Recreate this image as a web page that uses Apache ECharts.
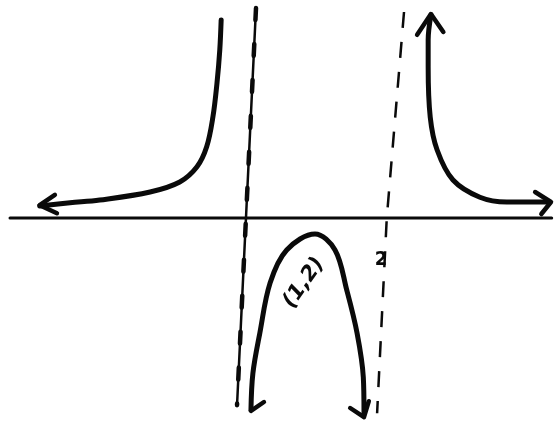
<!DOCTYPE html>
<html>
<head>
<meta charset="utf-8">
<title>Rational function sketch</title>
<script src="https://cdn.jsdelivr.net/npm/echarts@6/dist/echarts.min.js"></script>
<style>
  html, body { margin: 0; padding: 0; background: #fff; }
  #chart { width: 555px; height: 421px; }
</style>
</head>
<body>
<div id="chart"></div>
<script>
// Branches of the graph, as [x, y] pairs
const leftBranch = [[-2.99,1.5],[-2.55,1.9],[-2.12,2.25],[-1.39,3.25],[-0.96,4.5],[-0.71,6.4],[-0.57,8.9],[-0.48,12.6],[-0.42,16.9],[-0.38,21],[-0.36,24.75]];
const rightBranch = [[2.68,25.4],[2.64,22.25],[2.64,18.9],[2.67,12.6],[2.77,8.5],[3.0,4.75],[3.39,2.6],[3.78,2.0],[4.39,2.0]];
const middleBranch = [[0.072,-24],[0.10,-19.4],[0.20,-14.4],[0.35,-8.1],[0.59,-4],[1.0,-2],[1.29,-4],[1.46,-9],[1.61,-14.4],[1.70,-19.9],[1.71,-24.4]];

// Arrowheads at the open ends of each branch
const arrowLeft = [[-2.77,2.9],[-2.99,1.6],[-2.74,0.6]];
const arrowTop = [[2.48,22.9],[2.68,25.5],[2.86,23.25]];
const arrowRight = [[4.19,3.25],[4.42,2.0],[4.28,0.5]];
const arrowMidLeft = [[0.072,-24.1],[0.26,-23]];
const arrowMidRight = [[1.51,-23.75],[1.71,-24.9],[1.78,-22.9]];

// Horizontal axis and the two vertical asymptotes
const xAxisLine = [[-3.42,0],[4.43,0]];
const asymptoteZero = [[0.145,26.25],[-0.13,-23.4]];
const asymptoteTwo = [[2.29,25.75],[2.04,0],[1.90,-24.4]];

// Text annotations
const vertexLabel = { value: [0.84,-8.1], text: '(1,2)' };
const tickLabel = { value: [1.957,-5.25], text: '2' };

const ink = '#0a0a0a';

function stroke(data, width, extra) {
  return Object.assign({
    type: 'line',
    data: data,
    symbol: 'none',
    silent: true,
    animation: false,
    lineStyle: { color: ink, width: width, cap: 'round', join: 'round' }
  }, extra || {});
}

const chart = echarts.init(document.getElementById('chart'));
chart.setOption({
  backgroundColor: '#ffffff',
  animation: false,
  grid: { left: 0, right: 0, top: 0, bottom: 0 },
  xAxis: { type: 'value', min: -3.565, max: 4.478, show: false },
  yAxis: { type: 'value', min: -25.375, max: 27.25, show: false },
  series: [
    stroke(xAxisLine, 3),
    stroke(asymptoteZero, 2.5),
    Object.assign(stroke(asymptoteZero, 4.5), { lineStyle: { color: ink, width: 4.5, type: [12, 24], cap: 'round' } }),
    Object.assign(stroke(asymptoteTwo, 2.5), { lineStyle: { color: ink, width: 2.5, type: [16, 14], cap: 'butt' } }),
    stroke(leftBranch, 5, { smooth: 0.35 }),
    stroke(rightBranch, 5, { smooth: 0.35 }),
    stroke(middleBranch, 5, { smooth: 0.35 }),
    stroke(arrowLeft, 4.5),
    stroke(arrowTop, 4.5),
    stroke(arrowRight, 4.5),
    stroke(arrowMidLeft, 4.5),
    stroke(arrowMidRight, 4.5)
  ]
});

// Place the annotations at their data positions via the chart's own scales
function textAt(item, style, rotation) {
  const p = chart.convertToPixel({ gridIndex: 0 }, item.value);
  return {
    type: 'text',
    x: p[0],
    y: p[1],
    rotation: rotation || 0,
    silent: true,
    z: 10,
    style: Object.assign({ text: item.text, fill: ink, align: 'center', verticalAlign: 'middle', fontFamily: 'DejaVu Sans' }, style)
  };
}

chart.setOption({
  graphic: [
    textAt(vertexLabel, { fontSize: 21, fontWeight: 'bold', fontStyle: 'italic' }, 55 * Math.PI / 180),
    textAt(tickLabel, { fontSize: 20, fontWeight: 'bold', fontFamily: '"DejaVu Sans Condensed", "DejaVu Sans", sans-serif' })
  ]
});
</script>
</body>
</html>
